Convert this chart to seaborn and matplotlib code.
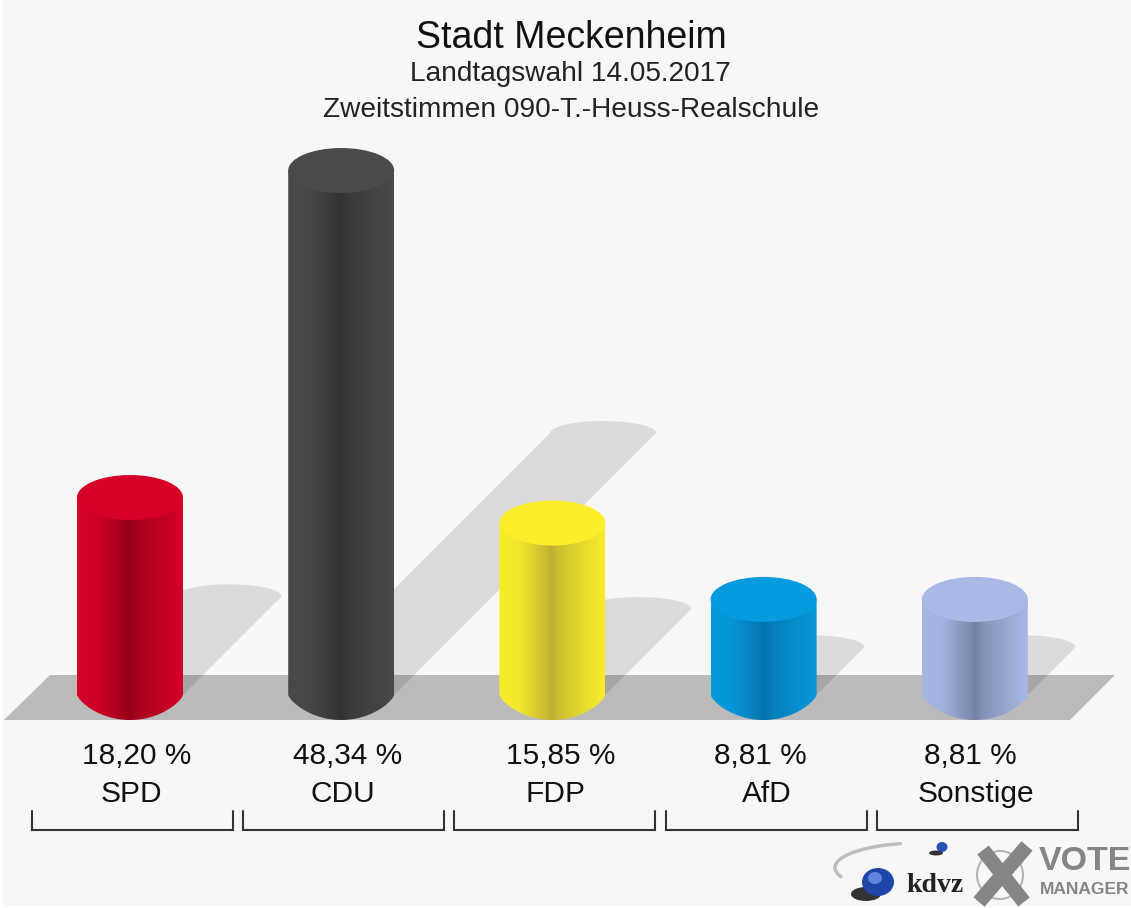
import numpy as np
import matplotlib
matplotlib.use('Agg')
import matplotlib.pyplot as plt
import seaborn as sns
from matplotlib.colors import LinearSegmentedColormap, to_rgb
from matplotlib.patches import Ellipse, PathPatch, Polygon, Rectangle
from matplotlib.path import Path

# data
parties = ['SPD', 'CDU', 'FDP', 'AfD', 'Sonstige']
values = [18.20, 48.34, 15.85, 8.81, 8.81]
value_labels = ['18,20 %', '48,34 %', '15,85 %', '8,81 %', '8,81 %']
base_colors = ['#d70029', '#4a4a4a', '#fcee2b', '#069ade', '#aab9e6']
dark_colors = ['#93001a', '#333333', '#bdb032', '#0573ad', '#7482a6']

W, H = 1131, 908
SLOT = 211.2        # px between bars
X0 = 130            # px of first bar
Y0 = 695            # px of value 0
PX_PER_PT = 10.85
BAR_W = 106 / SLOT
TOP_H = 22.5
BOT_H = 25


def px(x):
    return (np.asarray(x, dtype=float) - X0) / SLOT


def py(y):
    return (Y0 - np.asarray(y, dtype=float)) / PX_PER_PT


sns.set_theme(style='white')
plt.rcParams['font.family'] = ['Liberation Sans', 'DejaVu Sans']

fig = plt.figure(figsize=(W / 100, H / 100), dpi=100, facecolor='white')
ax = fig.add_axes([0, 0, 1, 1])

sns.barplot(x=parties, y=values, hue=parties, palette=base_colors, width=BAR_W,
            saturation=1, legend=False, ax=ax, zorder=2)
bars = [p for cont in ax.containers for p in cont]
ax.set_xlim(px(0), px(W))
ax.set_ylim(py(H), py(0))
ax.axis('off')

# background and floor
ax.add_patch(Rectangle((px(3), py(H - 2)), px(W) - px(3), py(0) - py(H - 2), color='#f7f7f7', zorder=0, lw=0))
floor = [(4, 720), (50, 675), (1115, 675), (1070, 720)]
ax.add_patch(Polygon([(px(a), py(b)) for a, b in floor], color='#bbbbbb', zorder=1, lw=0))

# shadows, length follows the value
t = np.linspace(0, np.pi, 40)
for i, v in enumerate(values):
    c = X0 + i * SLOT
    L = 5.42 * v
    xs = [c - 53, c + 53] + list(c + L + 53 * np.cos(t))
    ys = [Y0, Y0] + list(Y0 - L - 12 * np.sin(t))
    ax.add_patch(Polygon(np.column_stack([px(xs), py(ys)]), color='black', alpha=0.11, zorder=1.5, lw=0))

# cylinder shading on top of the seaborn bars
stops = [0, 0.2, 0.44, 0.5, 0.6, 0.85, 1]
mix = [0.04, 0.14, 0.8, 1, 0.65, 0.25, 0.04]
u = np.linspace(1, -1, 80)
for i, (patch, v) in enumerate(zip(bars, values)):
    base, dark = np.array(to_rgb(base_colors[i])), np.array(to_rgb(dark_colors[i]))
    cols = [(s, tuple(base + (dark - base) * m)) for s, m in zip(stops, mix)]
    cmap = LinearSegmentedColormap.from_list('cyl%d' % i, cols)
    left, right = i - BAR_W / 2, i + BAR_W / 2
    im = ax.imshow(np.linspace(0, 1, 256)[None, :], cmap=cmap, aspect='auto', zorder=2.1,
                   extent=(left, right, py(Y0 + BOT_H), v), interpolation='bilinear')
    # body outline: top edge straight, rounded bottom
    xb = i - BAR_W / 2 * u
    yb = -BOT_H / PX_PER_PT * (1 - u ** 2) ** 0.75
    outline = np.vstack([[left, v], np.column_stack([xb, yb]), [right, v], [left, v]])
    clip = PathPatch(Path(outline), transform=ax.transData, fc='none', ec='none')
    ax.add_patch(clip)
    im.set_clip_path(clip)
    patch.set_visible(False)
    ax.add_patch(Ellipse((i, v), BAR_W, 2 * TOP_H / PX_PER_PT, color=base_colors[i], zorder=3, lw=0))
ax.set_xlim(px(0), px(W))
ax.set_ylim(py(H), py(0))

# titles
ax.text(px(571), py(38), 'Stadt Meckenheim', fontsize=27, ha='center', va='center', color='#111111')
ax.text(px(570), py(74), 'Landtagswahl 14.05.2017', fontsize=20.2, ha='center', va='center', color='#222222')
ax.text(px(571), py(110), 'Zweitstimmen 090-T.-Heuss-Realschule', fontsize=20.2, ha='center', va='center', color='#222222')

# labels and brackets
val_shift = [7, 6, 8, -3, -4]
name_shift = [1, 2, 3, 3, 1]
for i in range(len(parties)):
    c = X0 + i * SLOT
    ax.text(px(c + val_shift[i]), py(756), value_labels[i], fontsize=21.5, ha='center', va='center', color='#111111')
    ax.text(px(c + name_shift[i]), py(794), parties[i], fontsize=21.5, ha='center', va='center', color='#111111')
    bx = [c - 98, c - 98, c + 103, c + 103]
    ax.plot(px(bx), py([811, 830, 830, 811]), color='#333333', lw=1.5, solid_joinstyle='miter', zorder=2)

# logo
sw = np.linspace(0.12, 1, 40)
ax.plot(px(920 - 85 * np.sin(sw * np.pi * 0.62)), py(843 + 32 * (1 - np.cos(sw * np.pi * 0.62)) / 1.3),
        color='#bdbdbd', lw=2.5, zorder=2)
ax.add_patch(Ellipse((px(866), py(894)), 30 / SLOT, 14 / PX_PER_PT, color='#333333', zorder=2, lw=0))
ax.add_patch(Ellipse((px(878), py(882)), 32 / SLOT, 28 / PX_PER_PT, color='#1f45a8', zorder=3, lw=0))
ax.add_patch(Ellipse((px(875), py(878)), 14 / SLOT, 12 / PX_PER_PT, color='#5f86dc', zorder=3, lw=0))
ax.add_patch(Ellipse((px(936), py(853)), 14 / SLOT, 5 / PX_PER_PT, color='#333333', zorder=2, lw=0))
ax.add_patch(Ellipse((px(942), py(847)), 11 / SLOT, 10 / PX_PER_PT, color='#2550b5', zorder=3, lw=0))
ax.text(px(935), py(885), 'kdvz', fontsize=20, fontweight='bold', family='Liberation Serif', ha='center', va='center', color='#222222')
ax.add_patch(Ellipse((px(1000), py(875)), 46 / SLOT, 48 / PX_PER_PT, fc='none', ec='#b5b5b5', lw=1.5, zorder=2))
ax.plot(px([983, 1024]), py([850, 902]), color='#858585', lw=10.5, solid_capstyle='butt', zorder=3)
ax.plot(px([1027, 979]), py([846, 902]), color='#858585', lw=10.5, solid_capstyle='butt', zorder=3)
ax.text(px(1085), py(862), 'VOTE', fontsize=24.5, fontweight='bold', ha='center', va='center', color='#858585')
ax.text(px(1085), py(889), 'MANAGER', fontsize=12.5, fontweight='bold', ha='center', va='center', color='#858585')

fig.savefig('out.png', dpi=100)
